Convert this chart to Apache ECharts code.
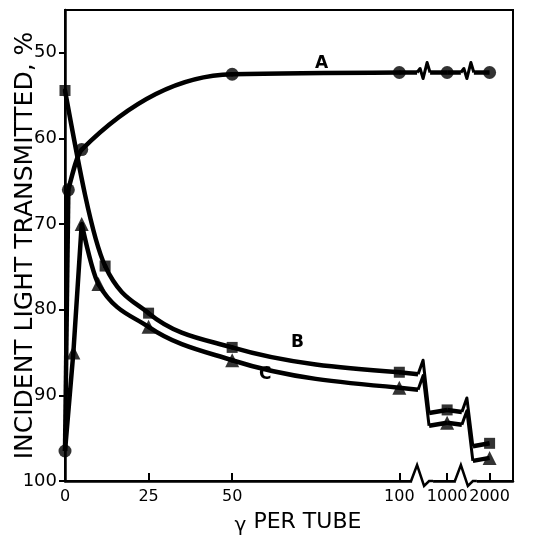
<!DOCTYPE html>
<html>
<head>
<meta charset="utf-8">
<script src="https://cdn.jsdelivr.net/npm/echarts@6.0.0/dist/echarts.min.js"></script>
<style>
html, body { margin: 0; background: #fff; }
#main { width: 538px; height: 536px; }
</style>
</head>
<body>
<div id="main"></div>
<script>
// curve A (circles)
var gammaA = [0, 1, 5, 50, 100, 1000, 2000];
var transA = [96.5, 66, 61.3, 52.5, 52.3, 52.3, 52.3];
// curve B (squares)
var gammaB = [0, 12, 25, 50, 100, 1000, 2000];
var transB = [54.4, 74.9, 80.4, 84.4, 87.3, 91.7, 95.6];
// curve C (triangles), starts from the blank point of A
var gammaC = [2.5, 5, 10, 25, 50, 100, 1000, 2000];
var transC = [85, 70, 77, 82, 85.9, 89.1, 93.2, 97.3];

var xTicks = [0, 25, 50, 100, 1000, 2000];
var yTicks = [50, 60, 70, 80, 90, 100];

// broken x axis: linear up to 100, then 1000 and 2000 squeezed in
var BROKEN_POS = { 1000: 114.3, 2000: 127 };
var BREAK_POS = [107.4, 120.5];
var INK = '#000';
var FONT = 'DejaVu Sans';

function xPos(v) {
    return v <= 100 ? v : BROKEN_POS[v];
}

function pts(xs, ys, from, to) {
    var out = [];
    for (var i = from; i <= to; i++) {
        out.push([xPos(xs[i]), ys[i]]);
    }
    return out;
}

// monotone cubic slopes (same idea as d3 curveMonotoneX)
function sign(v) { return v < 0 ? -1 : 1; }
function curveSegments(p) {
    var n = p.length;
    var h = [], s = [], m = [];
    for (var i = 0; i < n - 1; i++) {
        h.push(p[i + 1][0] - p[i][0]);
        s.push((p[i + 1][1] - p[i][1]) / h[i]);
    }
    for (var j = 1; j < n - 1; j++) {
        var q = (s[j - 1] * h[j] + s[j] * h[j - 1]) / (h[j - 1] + h[j]);
        m[j] = (sign(s[j - 1]) + sign(s[j])) *
            Math.min(Math.abs(s[j - 1]), Math.abs(s[j]), 0.5 * Math.abs(q)) || 0;
    }
    m[0] = (3 * s[0] - m[1]) / 2;
    m[n - 1] = (3 * s[n - 2] - m[n - 2]) / 2;
    var segs = [];
    for (var k = 0; k < n - 1; k++) {
        segs.push([p[k][0], p[k][1], p[k + 1][0], p[k + 1][1], m[k], m[k + 1]]);
    }
    return segs;
}

function renderCurve(params, api) {
    var x0 = api.value(0), y0 = api.value(1), x1 = api.value(2), y1 = api.value(3);
    var d = (x1 - x0) / 3;
    var a = api.coord([x0, y0]);
    var c1 = api.coord([x0 + d, y0 + api.value(4) * d]);
    var c2 = api.coord([x1 - d, y1 - api.value(5) * d]);
    var b = api.coord([x1, y1]);
    return {
        type: 'bezierCurve',
        shape: { x1: a[0], y1: a[1], cpx1: c1[0], cpy1: c1[1], cpx2: c2[0], cpy2: c2[1], x2: b[0], y2: b[1] },
        style: { stroke: INK, lineWidth: 4.5, fill: null, lineCap: 'round' }
    };
}

function curveSeries(p) {
    return {
        type: 'custom',
        data: curveSegments(p),
        renderItem: renderCurve,
        silent: true,
        z: 3
    };
}

function lineSeries(data, width) {
    return {
        type: 'line',
        data: data,
        showSymbol: false,
        silent: true,
        lineStyle: { color: INK, width: width || 4.5 },
        z: 3
    };
}

function markSeries(data, symbol, size) {
    return {
        type: 'scatter',
        data: data,
        symbol: symbol,
        symbolSize: size,
        itemStyle: { color: INK },
        silent: true,
        z: 5
    };
}

// break pieces: [breakPos, xLeft, yLeft, xRight, yRight, kind]
// kind 0 = step (B, C), 1 = flat (A), 2 = axis
var breakData = [];
function addBreaks(xs, ys, kind) {
    var n = xs.length;
    breakData.push([BREAK_POS[0], xPos(xs[n - 3]), ys[n - 3], xPos(xs[n - 2]), ys[n - 2], kind]);
    breakData.push([BREAK_POS[1], xPos(xs[n - 2]), ys[n - 2], xPos(xs[n - 1]), ys[n - 1], kind]);
}
addBreaks(gammaA, transA, 1);
addBreaks(gammaB, transB, 0);
addBreaks(gammaC, transC, 0);
breakData.push([BREAK_POS[0], 0, 100, 0, 100, 2]);
breakData.push([BREAK_POS[1], 0, 100, 0, 100, 2]);

function renderBreak(params, api) {
    var kind = api.value(5);
    var p1 = api.coord([api.value(1), api.value(2)]);
    var p2 = api.coord([api.value(3), api.value(4)]);
    var bx = api.coord([api.value(0), 100])[0];
    var line;
    if (kind === 2) {
        var y = p1[1];
        bx -= 3;
        return {
            type: 'group',
            children: [{
                type: 'rect',
                shape: { x: bx - 9, y: y - 3, width: 21, height: 6 },
                style: { fill: '#fff' }
            }, {
                type: 'polyline',
                shape: { points: [[bx - 10, y], [bx - 4, y - 16], [bx + 3, y + 5], [bx + 8, y], [bx + 12, y]] },
                style: { stroke: INK, lineWidth: 2.5, fill: null }
            }]
        };
    }
    if (kind === 1) {
        var ya = p1[1];
        line = [[bx - 7, ya], [bx - 4, ya - 4], [bx - 1, ya + 6], [bx + 3, ya - 10], [bx + 6, p2[1]]];
    } else {
        line = [[bx - 6, p1[1] + 2], [bx - 1, p1[1] - 12], [bx + 5, p2[1] + 3]];
    }
    return {
        type: 'group',
        children: [{
            type: 'polyline',
            shape: { points: [p1, line[0]] },
            style: { stroke: INK, lineWidth: 4.5, fill: null }
        }, {
            type: 'polyline',
            shape: { points: line },
            style: { stroke: INK, lineWidth: 3, fill: null, lineJoin: 'round' }
        }, {
            type: 'polyline',
            shape: { points: [line[line.length - 1], p2] },
            style: { stroke: INK, lineWidth: 4.5, fill: null }
        }]
    };
}

var lastA = gammaA.length - 1;
var lastB = gammaB.length - 1;
var lastC = gammaC.length - 1;
var blank = [xPos(gammaA[0]), transA[0]];

var series = [
    // A
    lineSeries(pts(gammaA, transA, 0, 1)),
    curveSeries(pts(gammaA, transA, 1, 4)),
    markSeries(pts(gammaA, transA, 0, lastA), 'circle', 13),
    // B
    lineSeries([blank, [xPos(gammaB[0]), transB[0]]], 2),
    curveSeries(pts(gammaB, transB, 0, 4)),
    markSeries(pts(gammaB, transB, 0, lastB), 'rect', 11),
    // C
    lineSeries([blank].concat(pts(gammaC, transC, 0, 1))),
    curveSeries(pts(gammaC, transC, 1, 5)),
    markSeries(pts(gammaC, transC, 0, lastC), 'triangle', 14),
    {
        type: 'custom',
        data: breakData,
        renderItem: renderBreak,
        silent: true,
        z: 4
    }
];

var chart = echarts.init(document.getElementById('main'));
chart.setOption({
    animation: false,
    backgroundColor: '#fff',
    grid: {
        left: 65, right: 25, top: 10, bottom: 55,
        containLabel: false,
        outerBoundsMode: 'none',
        show: true,
        borderColor: INK,
        borderWidth: 2
    },
    xAxis: {
        type: 'value',
        min: 0,
        max: 134,
        name: '{g|γ} PER TUBE',
        nameLocation: 'middle',
        nameGap: 27,
        nameMoveOverlap: false,
        nameTextStyle: {
            fontFamily: FONT, fontSize: 22, color: INK, padding: [0, 0, 0, 18],
            rich: { g: { fontFamily: FONT, fontSize: 20, color: INK, padding: [8, 0, 0, 0] } }
        },
        axisLine: { lineStyle: { color: INK, width: 2.5 } },
        axisTick: {
            inside: true, length: 8,
            customValues: xTicks.map(xPos),
            lineStyle: { color: INK, width: 2 }
        },
        axisLabel: {
            customValues: xTicks.map(xPos),
            margin: 8,
            hideOverlap: false,
            fontFamily: FONT, fontSize: 16, color: INK,
            formatter: function (v) {
                for (var i = 0; i < xTicks.length; i++) {
                    if (Math.abs(xPos(xTicks[i]) - v) < 0.01) return String(xTicks[i]);
                }
                return '';
            }
        },
        splitLine: { show: false }
    },
    yAxis: {
        type: 'value',
        inverse: true,
        min: 45,
        max: 100,
        name: 'INCIDENT LIGHT TRANSMITTED, %',
        nameLocation: 'middle',
        nameGap: 27,
        nameMoveOverlap: false,
        nameTextStyle: { fontFamily: FONT, fontSize: 25, color: INK },
        axisLine: { lineStyle: { color: INK, width: 2.5 } },
        axisTick: { length: 6, customValues: yTicks, lineStyle: { color: INK, width: 2 } },
        axisLabel: {
            customValues: yTicks,
            margin: 8,
            fontFamily: FONT, fontSize: 18, color: INK
        },
        splitLine: { show: false }
    },
    graphic: [
        { type: 'text', left: 315, top: 55, style: { text: 'A', font: 'bold 17px "DejaVu Sans"', fill: INK } },
        { type: 'text', left: 291, top: 334, style: { text: 'B', font: 'bold 17px "DejaVu Sans"', fill: INK } },
        { type: 'text', left: 259, top: 366, style: { text: 'C', font: 'bold 17px "DejaVu Sans"', fill: INK } }
    ],
    series: series
});
</script>
</body>
</html>
